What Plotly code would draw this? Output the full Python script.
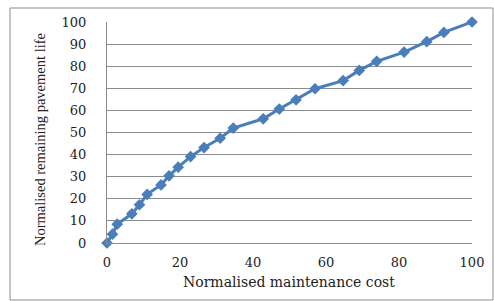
import plotly.graph_objects as go

cost = [0, 1.5, 2.8, 6.8, 8.9, 11, 14.8, 17, 19.5, 22.9, 26.6, 31, 34.6, 42.8, 47.2, 51.8, 57, 64.7, 69.1, 73.9, 81.4, 87.6, 92.3, 100]
life = [0, 4, 8.5, 13.2, 17.3, 22, 26.3, 30.4, 34.3, 39.1, 43.2, 47.4, 52, 56.2, 60.6, 64.8, 69.8, 73.5, 78.1, 82.2, 86.4, 91.1, 95.3, 100]
x_title = "Normalised maintenance cost"
y_title = "Normalised remaining pavement life"

W, H = 494, 301
L, R, T, B = 107, 22, 22, 58
pw, ph = W - L - R, H - T - B

def px(xp):
    return (xp - L) / pw

def py(yp):
    return (H - B - yp) / ph

fig = go.Figure()
fig.add_trace(go.Scatter(
    x=cost, y=life, mode="lines+markers",
    line=dict(color="#4a7ebb", width=3),
    marker=dict(symbol="diamond", size=9, color="#4a7ebb"),
    cliponaxis=False,
    showlegend=False,
))

tickfont = dict(family="DejaVu Serif", size=13, color="#222222")
fig.update_xaxes(range=[0, 100], tickvals=[0, 20, 40, 60, 80, 100], showgrid=False,
                 zeroline=False, showline=True, linecolor="#8c8c8c", linewidth=1,
                 ticks="outside", ticklen=7, tickcolor="rgba(0,0,0,0)",
                 tickfont=tickfont)
fig.update_yaxes(range=[0, 100], dtick=10, showgrid=True, gridcolor="#8c8c8c", gridwidth=1,
                 zeroline=False, showline=True, linecolor="#8c8c8c", linewidth=1,
                 ticks="outside", ticklen=17, tickcolor="rgba(0,0,0,0)",
                 tickfont=tickfont)

fig.update_layout(
    width=W, height=H,
    margin=dict(l=L, r=R, t=T, b=B, autoexpand=False),
    paper_bgcolor="white", plot_bgcolor="white",
    shapes=[dict(type="rect", xref="paper", yref="paper",
                 x0=px(10), x1=px(493), y0=py(300), y1=py(8),
                 line=dict(color="#8c8c8c", width=1), layer="below")],
    annotations=[
        dict(text=x_title, xref="paper", yref="paper", x=px(289), y=py(282),
             showarrow=False, xanchor="center", yanchor="middle",
             font=dict(family="DejaVu Serif", size=14, color="#222222")),
        dict(text=y_title, xref="paper", yref="paper", x=px(40), y=py(140),
             showarrow=False, xanchor="center", yanchor="middle", textangle=-90,
             font=dict(family="Liberation Serif", size=14.5, color="#222222")),
    ],
)

fig.write_html("out.html", config={"displayModeBar": False},
               post_script="document.body.style.margin='0';")
